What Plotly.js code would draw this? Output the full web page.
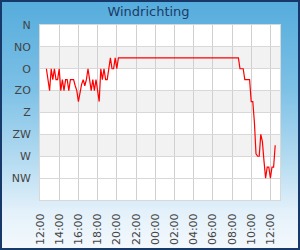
<!DOCTYPE html>
<html>
<head>
<meta charset="utf-8">
<script src="https://cdn.plot.ly/plotly-3.0.1.min.js"></script>
<style>
  html, body { margin: 0; padding: 0; background: #fff; }
  #wrap { position: relative; width: 300px; height: 250px; overflow: hidden;
          background: linear-gradient(to bottom, #55acdc 0%, #7cc0e6 35%, #b6dcf1 65%, #e4f1fa 85%, #f4f9fd 100%); }
  #chart { position: absolute; left: 0; top: 0; width: 300px; height: 250px; }
  #frame { position: absolute; left: 0; top: 0; width: 300px; height: 250px; box-sizing: border-box;
           border: 2px solid #17396a; pointer-events: none; }
</style>
</head>
<body>
<div id="wrap"><div id="chart"></div><div id="frame"></div></div>
<script>
// Data: wind direction in degrees (0 = N at top), 10-minute readings
const day1Date = '2024-05-01';
const day2Date = '2024-05-02';
const day1Times = ['12:40','12:50','13:00','13:10','13:20','13:30','13:40','13:50','14:00','14:10','14:20','14:30','14:40','14:50','15:00','15:10','15:20','15:30','15:40','15:50','16:00','16:10','16:20','16:30','16:40','16:50','17:00','17:10','17:20','17:30','17:40','17:50','18:00','18:10','18:20','18:30','18:40','18:50','19:00','19:10','19:20','19:30','19:40','19:50','20:00','20:10'];
const day1Dir = [90,112.5,135,90,112.5,90,112.5,112.5,90,135,112.5,135,112.5,112.5,135,112.5,112.5,112.5,125,135,157.5,135,122,112.5,125,112.5,90,112.5,135,112.5,135,112.5,135,157.5,90,112.5,90,112.5,112.5,90,67.5,90,90,67.5,90,67.5];
const day2Times = ['08:40','08:50','09:00','09:10','09:20','09:30','09:40','09:50','10:00','10:10','10:20','10:30','10:40','10:50','11:00','11:10','11:20','11:30','11:40','11:50','12:00','12:10','12:20','12:30'];
const day2Dir = [67.5,90,90,90,112.5,112.5,112.5,112.5,157.5,157.5,200,265,270,270,225,240,280,315,292.5,292.5,315,292.5,292.5,247.5];

const dirTickVals = [0,45,90,135,180,225,270,315];
const dirTickText = ['N','NO','O','ZO','Z','ZW','W','NW'];
const bandRanges = [[45,90],[135,180],[225,270]];
const xStart = '2024-05-01 12:00';
const xEnd = '2024-05-02 13:00';

const x = day1Times.map(t => day1Date + ' ' + t).concat(day2Times.map(t => day2Date + ' ' + t));
const y = day1Dir.concat(day2Dir);

const shapes = bandRanges.map(r => ({
  type: 'rect', xref: 'paper', yref: 'y', x0: 0, x1: 1, y0: r[0], y1: r[1],
  fillcolor: '#f2f2f2', line: {width: 0}, layer: 'below'
}));

const font = {family: 'DejaVu Sans, sans-serif'};

Plotly.newPlot('chart', [{
  x: x, y: y, type: 'scatter', mode: 'lines',
  line: {color: '#ff0000', width: 1.2}, hoverinfo: 'skip'
}], {
  width: 300, height: 250,
  margin: {l: 40, r: 20, t: 25, b: 50},
  paper_bgcolor: 'rgba(0,0,0,0)',
  plot_bgcolor: '#ffffff',
  showlegend: false,
  title: {text: 'Windrichting', x: 0.495, xanchor: 'center', y: 0.953, yanchor: 'middle',
          font: {family: font.family, size: 13, color: '#1c3b66'}},
  xaxis: {
    type: 'date', range: [xStart, xEnd], tick0: '2024-05-01 00:00', dtick: 7200000,
    tickformat: '%H:%M', tickangle: -90,
    tickfont: {family: font.family, size: 11, color: '#444444'},
    showgrid: true, gridcolor: '#d0d0d0', gridwidth: 1,
    showline: true, linecolor: '#d8d8d8', mirror: true, linewidth: 1,
    ticks: 'outside', ticklen: 8, tickcolor: 'rgba(0,0,0,0)',
    zeroline: false, fixedrange: true
  },
  yaxis: {
    range: [360, 0], tickvals: dirTickVals, ticktext: dirTickText,
    tickfont: {family: font.family, size: 11, color: '#444444'},
    showgrid: true, gridcolor: '#d8d8d8', gridwidth: 1,
    showline: true, linecolor: '#d8d8d8', mirror: true, linewidth: 1,
    ticks: 'outside', ticklen: 6, tickcolor: 'rgba(0,0,0,0)',
    zeroline: false, fixedrange: true
  },
  shapes: shapes
}, {displayModeBar: false, staticPlot: true});
</script>
</body>
</html>
